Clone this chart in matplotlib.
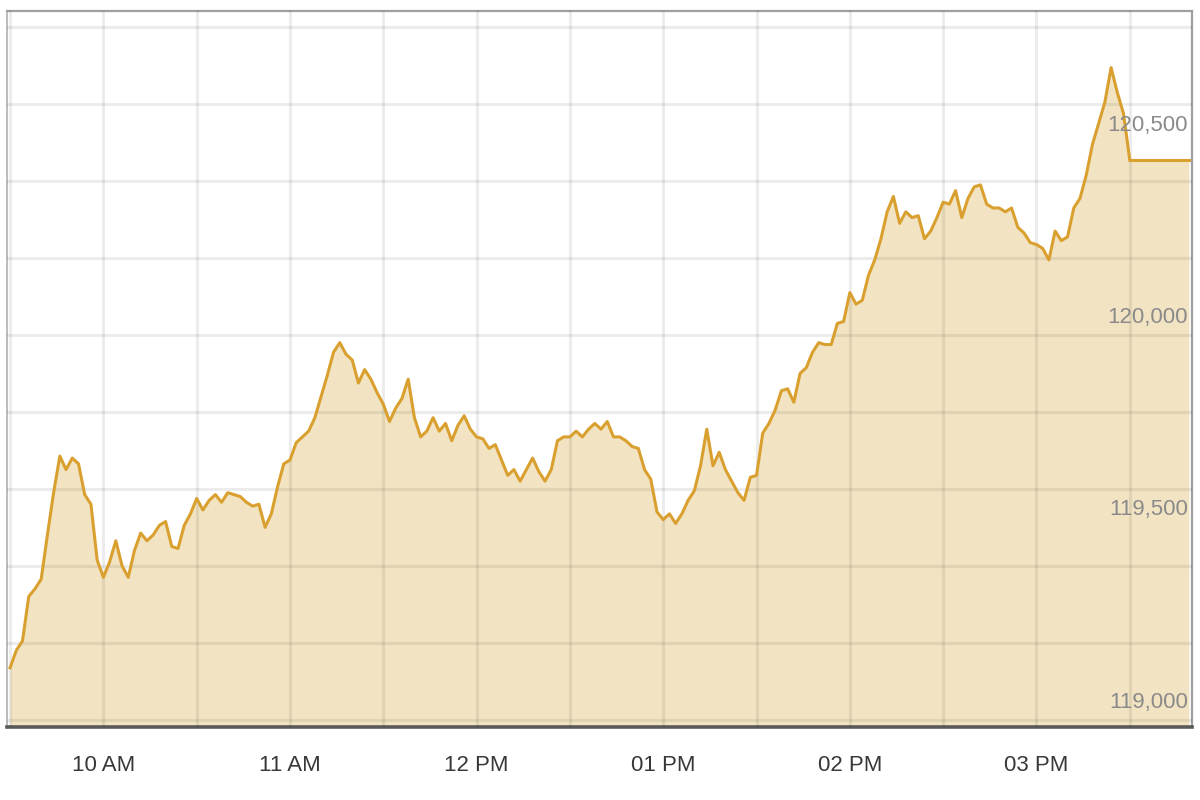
import matplotlib
matplotlib.use('Agg')
import matplotlib.pyplot as plt
import matplotlib.dates as mdates
import matplotlib.transforms as mtransforms
import numpy as np
import pandas as pd

# index level, one value every 2 minutes, 09:30 -> 15:30
values = [
    119135, 119180, 119205, 119320, 119340, 119365, 119480, 119590, 119685, 119650,
    119680, 119665, 119585, 119560, 119415, 119370, 119410, 119465, 119400, 119370,
    119440, 119485, 119465, 119480, 119505, 119515, 119450, 119445, 119505, 119535,
    119575, 119545, 119570, 119585, 119565, 119590, 119585, 119580, 119565, 119555,
    119560, 119500, 119535, 119605, 119665, 119675, 119720, 119735, 119750, 119785,
    119840, 119895, 119955, 119980, 119950, 119935, 119875, 119910, 119885, 119850,
    119820, 119775, 119810, 119835, 119885, 119785, 119735, 119750, 119785, 119750,
    119770, 119725, 119765, 119790, 119755, 119735, 119730, 119705, 119715, 119675,
    119635, 119650, 119620, 119650, 119680, 119645, 119620, 119650, 119725, 119735,
    119735, 119750, 119735, 119755, 119770, 119755, 119775, 119735, 119735, 119725,
    119710, 119705, 119650, 119625, 119540, 119520, 119535, 119510, 119535, 119570,
    119595, 119660, 119755, 119660, 119695, 119650, 119620, 119590, 119570, 119630,
    119635, 119745, 119770, 119805, 119855, 119860, 119825, 119900, 119915, 119955,
    119980, 119975, 119975, 120030, 120035, 120110, 120080, 120090, 120155, 120195,
    120250, 120320, 120360, 120290, 120320, 120305, 120310, 120250, 120270, 120305,
    120345, 120340, 120375, 120305, 120355, 120385, 120390, 120340, 120330, 120330,
    120320, 120330, 120280, 120265, 120240, 120235, 120225, 120195, 120270, 120245,
    120255, 120330, 120355, 120415, 120495, 120550, 120605, 120695, 120630, 120575,
    120455,
]
day = '2024-01-02'
times = pd.date_range(day + ' 09:30', periods=len(values), freq='2min').to_pydatetime()

# after the close the last value is carried flat to the edge
close_value = 120455
close_until = pd.Timestamp(day + ' 15:49').to_pydatetime()

ytick_labels = [119000, 119500, 120000, 120500]
grid_levels = list(range(119000, 120801, 200))
xtick_hours = ['10:00', '11:00', '12:00', '13:00', '14:00', '15:00']
xtick_labels = ['10 AM', '11 AM', '12 PM', '01 PM', '02 PM', '03 PM']

line_color = '#D9A030'
fill_color = '#F2E4C3'
font = ['Liberation Sans', 'DejaVu Sans']

fig = plt.figure(figsize=(12, 8), dpi=100)
ax = fig.add_axes([0.0058, 0.09125, 0.9875, 0.895])

ymin, ymax = 118981, 120842
x_all = list(times) + [close_until]
y_all = list(values) + [close_value]
ax.fill_between(x_all, y_all, ymin, color=fill_color, lw=0, zorder=1)
ax.plot(times, values, color=line_color, lw=2.2, zorder=3)
ax.plot([times[-1], close_until], [close_value, close_value], color=line_color, lw=2.2, zorder=3)

ax.set_xlim(pd.Timestamp(day + ' 09:29').to_pydatetime(), pd.Timestamp(day + ' 15:50').to_pydatetime())
ax.set_ylim(ymin, ymax)

# grid: every 30 min and every 200 points
ax.xaxis.set_minor_locator(mdates.MinuteLocator(byminute=[30]))
ax.set_xticks([pd.Timestamp(day + ' ' + h).to_pydatetime() for h in xtick_hours])
ax.set_xticklabels(xtick_labels)
ax.set_yticks(grid_levels)
ax.set_yticklabels([])
ax.grid(True, which='both', color='black', alpha=0.075, lw=2.2)
for gl in ax.get_xgridlines() + ax.get_ygridlines():
    gl.set_zorder(2)
ax.set_axisbelow(False)

ax.tick_params(axis='both', which='both', length=0)
ax.tick_params(axis='x', pad=20, labelsize=16, labelcolor='#383838')
for lab in ax.get_xticklabels():
    lab.set_family(font)

# value labels sit inside the plot, just above their level
trans = mtransforms.blended_transform_factory(ax.transAxes, ax.transData)
for v in ytick_labels:
    ax.annotate(f'{v:,}', xy=(0.9965, v), xycoords=trans, xytext=(0, 5),
                textcoords='offset points', ha='right', va='bottom',
                fontsize=16, color='#8a8a8a', family=font, zorder=4)

ax.spines['top'].set_color('#a0a0a0')
ax.spines['top'].set_linewidth(1.6)
ax.spines['left'].set_color('#b0b0b0')
ax.spines['left'].set_linewidth(1.2)
ax.spines['right'].set_color('#a0a0a0')
ax.spines['right'].set_linewidth(1.6)
ax.spines['bottom'].set_color('#5a5a5a')
ax.spines['bottom'].set_linewidth(2.6)

fig.savefig('out.png', dpi=100)
